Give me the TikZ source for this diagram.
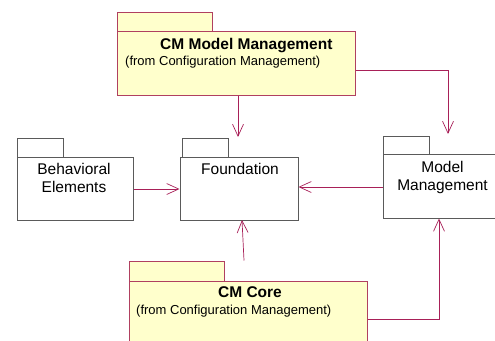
\documentclass[tikz,border=0pt]{standalone}
\usepackage{fontspec}
\setmainfont{Liberation Sans}
\usetikzlibrary{arrows.meta}
\definecolor{pkgfill}{RGB}{255,255,204}
\definecolor{pkgline}{RGB}{176,64,96}
\definecolor{conn}{RGB}{168,32,88}
\definecolor{grayline}{RGB}{90,90,90}
\tikzset{
  ypkg/.style={draw=pkgline, fill=pkgfill, line width=1pt, rectangle, inner sep=0pt},
  gpkg/.style={draw=grayline, fill=white, line width=1pt, rectangle, inner sep=0pt},
  dep/.style={draw=conn, line width=0.7pt, -{Straight Barb[length=12pt,width=11pt]}},
  nametext/.style={inner sep=0pt, align=center, font=\fontsize{15.5}{18}\selectfont},
  titletext/.style={inner sep=0pt, font=\fontsize{15.5}{18}\selectfont\bfseries},
  subtext/.style={inner sep=0pt, font=\fontsize{13}{16}\selectfont},
}
\begin{document}
\begin{tikzpicture}[x=1pt,y=-1pt]
\useasboundingbox (0,0) rectangle (495,340);
\clip (0,0) rectangle (495,340);
% CM Model Management
\node[ypkg, minimum width=95pt, minimum height=19pt] (cmmmtab) at (164.5,21.5) {};
\node[ypkg, minimum width=238pt, minimum height=64pt] (cmmm) at (236,63) {};
\node[titletext, anchor=base west] (cmmmtitle) at (160,49) {CM Model Management};
\node[subtext, anchor=base west] (cmmmsub) at (125,65) {(from Configuration Management)};
% Behavioral Elements
\node[gpkg, minimum width=46pt, minimum height=19pt] (betab) at (40,147.5) {};
\node[gpkg, minimum width=116pt, minimum height=63pt] (be) at (75,188.5) {};
\node[nametext, anchor=base] (betext) at (74,192) {Behavioral\\Elements};
% Foundation
\node[gpkg, minimum width=46pt, minimum height=19pt] (fdtab) at (205,147.5) {};
\node[gpkg, minimum width=118pt, minimum height=63pt] (fd) at (239,188.5) {};
\node[nametext, anchor=base] (fdtext) at (240,174) {Foundation};
% Model Management
\node[gpkg, minimum width=46pt, minimum height=18pt] (mmtab) at (406,145) {};
\node[gpkg, minimum width=120pt, minimum height=64pt] (mm) at (443,186) {};
\node[nametext, anchor=base] (mmtext) at (442.5,190) {Model\\Management};
% CM Core
\node[ypkg, minimum width=95pt, minimum height=20pt] (cctab) at (176.5,271) {};
\node[ypkg, minimum width=238pt, minimum height=80pt] (cc) at (248,321) {};
\node[titletext, anchor=base] (cctitle) at (250,297) {CM Core};
\node[subtext, anchor=base west] (ccsub) at (136,314) {(from Configuration Management)};
% connectors
\coordinate (fdtop) at (238,137);
\coordinate (mmtop) at (448,134);
\coordinate (fdbot) at (242,220);
\draw[dep] (cmmm.south -| fdtop) -- (fdtop);
\draw[dep] (cmmm.east |- 0,70) -| (mmtop);
\draw[dep] (be.east |- 0,189) -- (fd.west |- 0,189);
\draw[dep] (mm.west |- 0,187) -- (fd.east |- 0,187);
\draw[dep] (cctab.north east -| 244,0) -- (fdbot);
\draw[dep] (cc.east |- 0,319) -| (mm.south -| 439,0);
\end{tikzpicture}
\end{document}
